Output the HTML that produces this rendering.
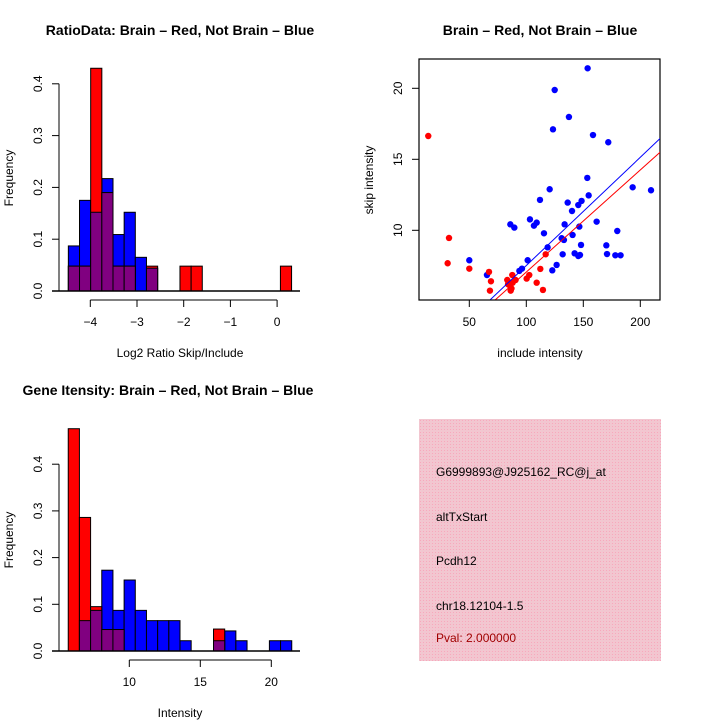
<!DOCTYPE html>
<html><head><meta charset="utf-8"><style>
body{margin:0;background:#fff}
svg{display:block;font-family:"Liberation Sans",sans-serif}
</style></head><body>
<svg id="c" width="720" height="720" viewBox="0 0 720 720" xmlns="http://www.w3.org/2000/svg">
<rect width="720" height="720" fill="#fff"/>
<g id="g1"></g>
<g id="g2"></g>
<g id="g3"></g>
<g>
<defs><pattern id="hatch" width="3" height="3" patternUnits="userSpaceOnUse"><rect width="3" height="3" fill="#f2c6d0"/><rect width="1" height="1" fill="#f8a8bc"/></pattern></defs>
<rect x="419" y="419" width="242" height="242" fill="url(#hatch)"/>
<g font-size="12">
<text x="436" y="476">G6999893@J925162_RC@j_at</text>
<text x="436" y="521">altTxStart</text>
<text x="436" y="565">Pcdh12</text>
<text x="436" y="610">chr18.12104-1.5</text>
<text x="436" y="642" fill="#a00000">Pval: 2.000000</text>
</g></g>
</svg>
<script>
// ---- Histogram 1 data (RatioData)
const h1Start = -4.47;
const h1Width = 0.239;
const h1Red = [0.048,0.048,0.43,0.19,0.048,0.048,0,0.048,0,0,0.048,0.048,0,0,0,0,0,0,0,0.048];
const h1Blue = [0.087,0.175,0.152,0.217,0.109,0.152,0.065,0.044,0,0,0,0,0,0,0,0,0,0,0,0];
const h1XTicks = [-4,-3,-2,-1,0];
const h1YTicks = [0,0.1,0.2,0.3,0.4];
// ---- Scatter data
const redX = [14.0,32.2,31.0,50.0,67.3,69.0,68.1,83.3,85.7,86.3,87.7,88.0,90.6,100.3,102.6,109.1,112.3,114.6,117.0,87.0,84.0];
const redY = [16.64,9.46,7.68,7.30,7.07,6.41,5.75,6.50,6.10,5.75,6.85,6.31,6.50,6.60,6.85,6.31,7.28,5.80,8.31,5.9,6.2];
const blueX = [153.8,124.9,137.4,123.4,158.5,171.9,153.5,120.5,154.7,193.3,209.4,112.0,136.3,140.1,145.6,148.5,103.2,109.1,106.7,86.0,89.5,161.7,133.6,146.5,115.5,179.8,140.6,131.0,133.0,148.0,170.2,118.7,131.9,142.4,145.6,147.1,170.8,178.1,182.7,101.2,50.0,126.6,122.8,96.2,93.9,65.5];
const blueY = [21.41,19.88,17.98,17.11,16.71,16.20,13.69,12.89,12.46,13.03,12.82,12.14,11.95,11.36,11.78,12.07,10.77,10.54,10.33,10.42,10.19,10.61,10.42,10.26,9.79,9.95,9.67,9.44,9.32,8.97,8.94,8.80,8.31,8.38,8.19,8.26,8.33,8.24,8.24,7.89,7.89,7.56,7.18,7.30,7.14,6.85];
const fitIntercepts = [-0.13,-0.10]; // red, blue
const fitSlopes = [0.0719,0.0762];
const scXTicks = [50,100,150,200];
const scYTicks = [10,15,20];
// ---- Histogram 2 data (Gene intensity)
const h2Start = 5.70;
const h2Width = 0.787;
const h2Red = [0.476,0.286,0.095,0.046,0.046,0,0,0,0,0,0,0,0,0.047,0,0,0,0,0,0];
const h2Blue = [0,0.065,0.087,0.173,0.087,0.152,0.087,0.065,0.065,0.065,0.022,0,0,0.022,0.043,0.022,0,0,0.022,0.022];
const h2XTicks = [10,15,20];
const h2YTicks = [0,0.1,0.2,0.3,0.4];

const NS="http://www.w3.org/2000/svg";
function mk(parent,tag,attrs,text){const e=document.createElementNS(NS,tag);for(const k in attrs)e.setAttribute(k,attrs[k]);if(text!==undefined)e.textContent=text;parent.appendChild(e);return e;}

function histogram(g,o){
  const sx=v=>o.x0px+(v-o.x0v)*o.kx, sy=v=>o.y0px-v*o.ky;
  const n=o.red.length;
  for(let i=0;i<n;i++){
    const a=sx(o.start+i*o.width), b=sx(o.start+(i+1)*o.width);
    if(o.blue[i]>0){const r=mk(g,'rect',{x:a,y:sy(o.blue[i]),width:b-a,height:sy(0)-sy(o.blue[i]),fill:'#0000ff',stroke:'#000','stroke-width':1});
      
      }
  }
  for(let i=0;i<n;i++){
    const a=sx(o.start+i*o.width), b=sx(o.start+(i+1)*o.width);
    if(o.red[i]>0){const r=mk(g,'rect',{x:a,y:sy(o.red[i]),width:b-a,height:sy(0)-sy(o.red[i]),fill:'#ff0000',stroke:'#000','stroke-width':1});
      
      }
  }
  for(let i=0;i<n;i++){
    const a=sx(o.start+i*o.width), b=sx(o.start+(i+1)*o.width);
    const m=Math.min(o.red[i],o.blue[i]);
    if(m>0){const r=mk(g,'rect',{x:a,y:sy(m),width:b-a,height:sy(0)-sy(m),fill:'#800080',stroke:'#000','stroke-width':1});
      
      }
  }
  mk(g,'line',{x1:52,x2:300,y1:sy(0),y2:sy(0),stroke:'#000','stroke-width':1.5});
  // y axis
  const yt=o.yticks;
  mk(g,'line',{x1:59,x2:59,y1:sy(yt[0]),y2:sy(yt[yt.length-1]),stroke:'#000','stroke-width':1});
  yt.forEach(t=>{mk(g,'line',{x1:52,x2:59,y1:sy(t),y2:sy(t),stroke:'#000'});
    const tx=mk(g,'text',{x:0,y:0,'font-size':12,'text-anchor':'middle',transform:`translate(42,${sy(t)}) rotate(-90)`},t.toFixed(1));
    
    });
  const xt=o.xticks;
  mk(g,'line',{x1:sx(xt[0]),x2:sx(xt[xt.length-1]),y1:o.axY,y2:o.axY,stroke:'#000'});
  xt.forEach(t=>{mk(g,'line',{x1:sx(t),x2:sx(t),y1:o.axY,y2:o.axY+7,stroke:'#000'});
    const tx=mk(g,'text',{x:sx(t),y:o.axY+26,'font-size':12,'text-anchor':'middle'},String(t).replace('-','\u2212'));
    
    });
  let t=mk(g,'text',{x:o.titleX,y:o.titleY,'font-size':14,'font-weight':'bold','text-anchor':'middle'},o.title);
  
  
  t=mk(g,'text',{x:180,y:o.xlabY,'font-size':12,'text-anchor':'middle'},o.xlab);
  
  
  t=mk(g,'text',{x:0,y:0,'font-size':12,'text-anchor':'middle',transform:`translate(13,${o.ylabYc}) rotate(-90)`},'Frequency');
  
  
}

histogram(document.getElementById('g1'),{start:h1Start,width:h1Width,red:h1Red,blue:h1Blue,xticks:h1XTicks,yticks:h1YTicks,
  x0v:-4,x0px:90.3,kx:46.7,y0px:291,ky:518,axY:300,title:'RatioData: Brain \u2013 Red, Not Brain \u2013 Blue',titleX:180,titleY:35,xlab:'Log2 Ratio Skip/Include',xlabY:357,ylabYc:178});
histogram(document.getElementById('g3'),{start:h2Start,width:h2Width,red:h2Red,blue:h2Blue,xticks:h2XTicks,yticks:h2YTicks,
  x0v:10,x0px:129.3,kx:14.2,y0px:651,ky:467,axY:660,title:'Gene Itensity: Brain \u2013 Red, Not Brain \u2013 Blue',titleX:168,titleY:395,xlab:'Intensity',xlabY:717,ylabYc:540});

// scatter
(function(){
  const g=document.getElementById('g2');
  const L=419,R=660,T=59,B=300;
  const sx=v=>412.3+v*1.14, sy=v=>230.3-(v-10)*14.2;
  mk(g,'defs',{}).innerHTML='<clipPath id="clip"><rect x="419" y="59" width="241" height="241"/></clipPath>';
  mk(g,'rect',{x:L,y:T,width:R-L,height:B-T,fill:'none',stroke:'#000','stroke-width':1.2});
  blueX.forEach((x,i)=>{const c=mk(g,'circle',{cx:sx(x),cy:sy(blueY[i]),r:3.2,fill:'#0000ff'});
    
    });
  redX.forEach((x,i)=>{const c=mk(g,'circle',{cx:sx(x),cy:sy(redY[i]),r:3.2,fill:'#ff0000'});
    
    });
  const cols=['#ff0000','#0000ff'];
  fitSlopes.forEach((s,i)=>{const x1=0,x2=230;
    const l=mk(g,'line',{x1:sx(x1),y1:sy(fitIntercepts[i]+s*x1),x2:sx(x2),y2:sy(fitIntercepts[i]+s*x2),stroke:cols[i],'stroke-width':1,'clip-path':'url(#clip)'});
    
    });
  mk(g,'line',{x1:sx(scXTicks[0]),x2:sx(scXTicks[scXTicks.length-1]),y1:B,y2:B,stroke:'#000'});
  scXTicks.forEach(t=>{mk(g,'line',{x1:sx(t),x2:sx(t),y1:B,y2:B+7,stroke:'#000'});
    const tx=mk(g,'text',{x:sx(t),y:B+26,'font-size':12,'text-anchor':'middle'},String(t));
    
    });
  scYTicks.forEach(t=>{mk(g,'line',{x1:L-7,x2:L,y1:sy(t),y2:sy(t),stroke:'#000'});
    const tx=mk(g,'text',{x:0,y:0,'font-size':12,'text-anchor':'middle',transform:`translate(402,${sy(t)}) rotate(-90)`},String(t));
    
    });
  let t=mk(g,'text',{x:540,y:35,'font-size':14,'font-weight':'bold','text-anchor':'middle'},'Brain \u2013 Red, Not Brain \u2013 Blue');
  
  
  t=mk(g,'text',{x:540,y:357,'font-size':12,'text-anchor':'middle'},'include intensity');
  
  
  t=mk(g,'text',{x:0,y:0,'font-size':12,'text-anchor':'middle',transform:'translate(373,180) rotate(-90)'},'skip intensity');
  
  
})();
</script>
</body></html>
